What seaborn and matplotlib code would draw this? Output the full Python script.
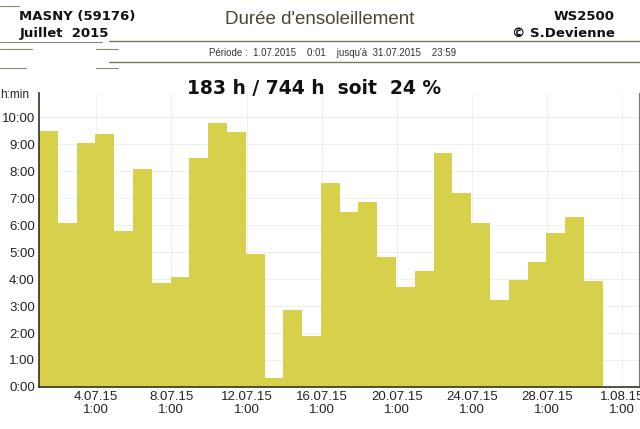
import numpy as np
import pandas as pd
import seaborn as sns
import matplotlib.pyplot as plt
from matplotlib.lines import Line2D

# daily sunshine duration, July 2015 (hours)
days = list(range(1, 31))
sunshine = [9.48, 6.10, 9.04, 9.40, 5.80, 8.10, 3.85, 4.07, 8.48, 9.78,
            9.44, 4.93, 0.33, 2.85, 1.89, 7.56, 6.48, 6.85, 4.81, 3.70,
            4.30, 8.67, 7.19, 6.07, 3.22, 3.96, 4.63, 5.70, 6.30, 3.93]

tick_days = [4, 8, 12, 16, 20, 24, 28, 32]
tick_labels = ["4.07.15\n1:00", "8.07.15\n1:00", "12.07.15\n1:00", "16.07.15\n1:00",
               "20.07.15\n1:00", "24.07.15\n1:00", "28.07.15\n1:00", "1.08.15\n1:00"]
hour_ticks = list(range(0, 11))
hour_labels = [f"{h}:00" for h in hour_ticks]

bar_color = "#d6d04b"

sns.set_style("white")
plt.rcParams['font.family'] = ['Liberation Sans', 'DejaVu Sans']

df = pd.DataFrame({"x": [d - 0.5 for d in days], "h": sunshine})

fig = plt.figure(figsize=(6.4, 4.29), dpi=100)
ax = fig.add_axes([0.061, 0.098, 0.938, 0.685])

sns.barplot(data=df, x="x", y="h", native_scale=True, width=1, color=bar_color,
            saturation=1, linewidth=0, ax=ax)

ax.set_xlim(0, 31.95)
ax.set_ylim(0, 10.9)
ax.set_xticks([d - 1 + 1 / 24 for d in tick_days])
ax.set_xticklabels(tick_labels, fontsize=9.5, color="#222222", linespacing=1.1)
ax.set_yticks(hour_ticks)
ax.set_yticklabels(hour_labels, fontsize=9.5, color="#222222")
ax.tick_params(length=0, pad=3)
ax.set_xlabel("")
ax.set_ylabel("")
ax.grid(True, color="#ececec", linewidth=0.6)
ax.set_axisbelow(True)

ax.spines["top"].set_visible(False)
ax.spines["left"].set_color("#333322")
ax.spines["bottom"].set_color("#333322")
ax.spines["right"].set_color("#777777")
ax.spines["left"].set_linewidth(1.2)
ax.spines["bottom"].set_linewidth(1.2)

fig.text(0.0, 0.778, "h:min", fontsize=8.5, color="#222222", ha="left", va="center")

# header
fig.text(0.03, 0.962, "MASNY (59176)", fontsize=9.5, fontweight="bold",
         family="DejaVu Sans", color="#111111", va="center")
fig.text(0.03, 0.922, "Juillet  2015", fontsize=9.5, fontweight="bold",
         family="DejaVu Sans", color="#111111", va="center")
fig.text(0.96, 0.962, "WS2500", fontsize=9.5, fontweight="bold",
         family="DejaVu Sans", color="#111111", va="center", ha="right")
fig.text(0.96, 0.922, "© S.Devienne", fontsize=9.5, fontweight="bold",
         family="DejaVu Sans", color="#111111", va="center", ha="right")
fig.text(0.50, 0.955, "Durée d'ensoleillement", fontsize=13.5, color="#4a4630",
         ha="center", va="center")
fig.text(0.52, 0.877, "Période :  1.07.2015    0:01    jusqu'à  31.07.2015    23:59",
         fontsize=7, color="#333333", ha="center", va="center")
fig.text(0.49, 0.794, "183 h / 744 h  soit  24 %", fontsize=13.5, fontweight="bold",
         family="DejaVu Sans", color="#111111", ha="center", va="center")

# header rules
for y in [0.904, 0.855]:
    fig.add_artist(Line2D([0.17, 1.0], [y, y], color="#777766", linewidth=1.0))
# scan streaks at the left
for y, x0, x1 in [(0.902, 0.0, 0.16), (0.886, 0.0, 0.05), (0.886, 0.15, 0.185),
                  (0.841, 0.0, 0.04), (0.841, 0.15, 0.185), (0.985, 0.0, 0.03)]:
    fig.add_artist(Line2D([x0, x1], [y, y], color="#888877", linewidth=0.8))

fig.savefig("out.png", dpi=100)
